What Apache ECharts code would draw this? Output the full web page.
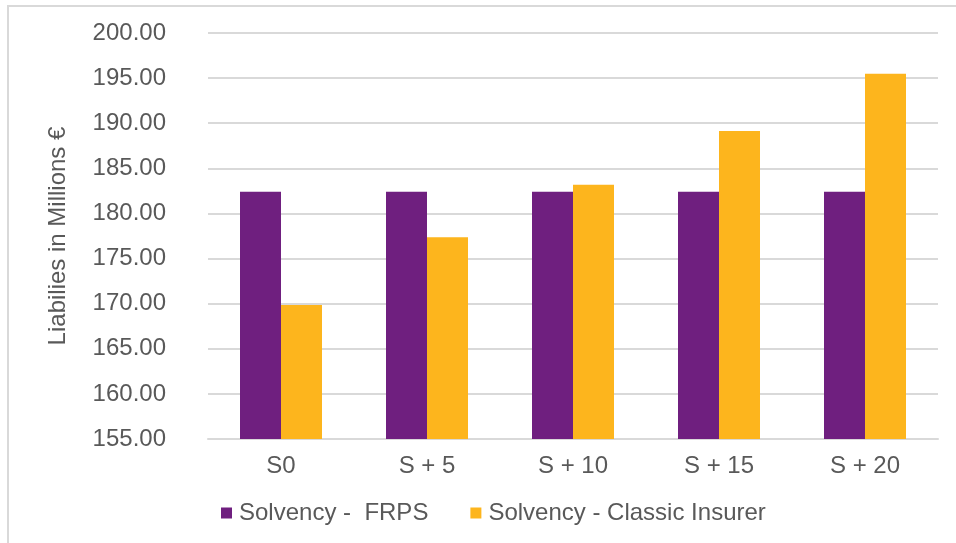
<!DOCTYPE html>
<html>
<head>
<meta charset="utf-8" />
<script src="https://cdn.jsdelivr.net/npm/echarts@6/dist/echarts.min.js"></script>
<style>
  html, body { margin: 0; padding: 0; background: #fff; }
</style>
</head>
<body>
<div id="main" style="width: 956px;height: 543px;"></div>
<script type="text/javascript">
    var categories = ['S0', 'S + 5', 'S + 10', 'S + 15', 'S + 20'];
    var frps = [182.41, 182.41, 182.41, 182.41, 182.41];
    var classic = [169.85, 177.35, 183.19, 189.14, 195.49];
    var seriesNames = ['Solvency -  FRPS', 'Solvency - Classic Insurer'];

    var chartDom = document.getElementById('main');
    var myChart = echarts.init(chartDom);
    var font = 'Liberation Sans, Arial, sans-serif';

    var option = {
        animation: false,
        graphic: [{
            type: 'rect',
            shape: { x: 8, y: 6, width: 960, height: 560 },
            style: { fill: 'none', stroke: '#d9d9d9', lineWidth: 2 },
            silent: true
        }],
        grid: { left: 208, right: 18, top: 33, bottom: 104 },
        legend: {
            bottom: 13,
            left: 216,
            itemWidth: 11,
            itemHeight: 11,
            itemGap: 42,
            icon: 'rect',
            textStyle: { fontFamily: font, fontSize: 24, color: '#595959', padding: [0, 0, 0, 2] },
            data: seriesNames
        },
        xAxis: {
            type: 'category',
            data: categories,
            axisLine: { lineStyle: { color: '#d9d9d9', width: 2 } },
            axisTick: { show: false },
            axisLabel: { fontFamily: font, fontSize: 24, color: '#595959', margin: 15 }
        },
        yAxis: {
            type: 'value',
            min: 155,
            max: 200,
            interval: 5,
            name: 'Liabilies in Millions €',
            nameLocation: 'middle',
            nameGap: 138,
            nameTextStyle: { fontFamily: font, fontSize: 24, color: '#595959' },
            axisLine: { show: false },
            axisTick: { show: false },
            splitLine: { lineStyle: { color: '#d9d9d9', width: 2 } },
            axisLabel: {
                fontFamily: font, fontSize: 24, color: '#595959', margin: 42,
                formatter: function (v) { return v.toFixed(2); }
            }
        },
        series: [
            {
                name: seriesNames[0],
                type: 'bar',
                data: frps,
                barWidth: 41,
                barGap: '0%',
                itemStyle: { color: '#6f1f7f' }
            },
            {
                name: seriesNames[1],
                type: 'bar',
                data: classic,
                barWidth: 41,
                barGap: '0%',
                itemStyle: { color: '#fdb51d' }
            }
        ]
    };

    option && myChart.setOption(option);
</script>
</body>
</html>
